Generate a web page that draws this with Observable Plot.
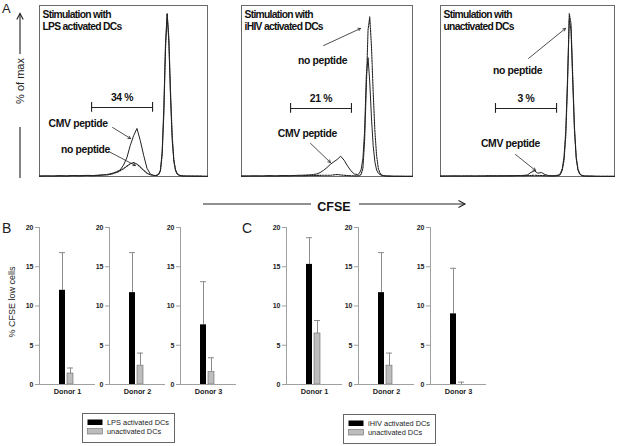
<!DOCTYPE html>
<html><head><meta charset="utf-8">
<script src="https://cdn.jsdelivr.net/npm/d3@7"></script>
<script src="https://cdn.jsdelivr.net/npm/@observablehq/plot@0.6"></script>
<style>
body{margin:0;background:#fff;}
#fig{position:relative;width:617px;height:446px;font-family:Arial,"Liberation Sans",sans-serif;overflow:hidden;}
#fig > div.p{position:absolute;}
#fig svg{display:block;overflow:visible;}
</style></head><body><div id="fig"></div>
<script>
// ---------- DATA ----------
// CFSE channel (x) shared by all histograms
const cfse = [0,4,8,12,16,20,24,28,32,36,40,42,44,46,48,50,52,54,56,58,60,62,64,66,68,69,70,71,72,73,74,75,76,77,78,79,80,81,82,83,84,86,88,92,96,100];
// % of max, LPS activated DCs
const lpsCmv  = [0.3,0.4,0.3,0.5,0.4,0.6,0.5,0.7,0.6,0.9,1.2,1.6,2.2,3.0,4.0,7,11.5,19,25,29.5,22,13,5,1.5,0.7,0.6,0.8,1.5,4,15,42,82,100,82,48,22,9,3.5,1.5,0.8,0.5,0.3,0.3,0.2,0.2,0.1];
const lpsNone = [0.2,0.3,0.3,0.4,0.3,0.5,0.4,0.6,0.5,0.7,1.0,1.3,1.8,2.5,3.5,4.8,6.3,7.8,8.6,7.6,5.8,3.8,2.0,1.0,0.6,0.6,0.8,1.5,3.5,13,38,78,100,85,52,25,10,4,1.8,0.9,0.5,0.3,0.3,0.2,0.2,0.1];
// % of max, iHIV activated DCs
const ihivCmv  = [0.3,0.3,0.4,0.3,0.5,0.4,0.6,0.5,0.7,0.8,1.0,1.2,1.6,2.4,3.8,5.5,7.5,9.0,10.5,12.5,10,6.5,3.5,1.5,1.2,2,4.5,11,28,62,73,58,36,19,9,4,2,1.2,0.7,0.5,0.4,0.3,0.2,0.2,0.1,0.1];
const ihivNone = [0.2,0.3,0.3,0.3,0.4,0.3,0.4,0.4,0.5,0.5,0.6,0.6,0.7,0.7,0.8,0.8,0.8,1.0,1.2,1.0,0.8,0.6,0.5,0.4,0.4,0.5,1.5,5,22,55,90,98,80,52,28,13,5,2,0.9,0.5,0.3,0.2,0.2,0.1,0.1,0.1];
// % of max, unactivated DCs
const unCmv  = [0.3,0.3,0.4,0.3,0.4,0.3,0.4,0.4,0.5,0.4,0.5,0.5,0.6,0.6,0.7,1.0,2.5,3.5,2.0,2.5,1.2,0.6,0.4,0.5,1.0,2,5,12,28,60,96,90,58,28,11,4,1.5,0.7,0.4,0.3,0.3,0.2,0.2,0.1,0.1,0.1];
const unNone = [0.2,0.3,0.3,0.3,0.3,0.3,0.3,0.4,0.3,0.4,0.4,0.4,0.5,0.5,0.5,0.6,0.6,0.8,0.6,0.6,0.5,0.4,0.4,0.4,0.6,1.5,4,10,25,56,100,94,62,30,12,4.5,1.8,0.8,0.4,0.3,0.2,0.2,0.2,0.1,0.1,0.1];

const histTitles = ["Stimulation with\nLPS activated DCs","Stimulation with\niHIV activated DCs","Stimulation with\nunactivated DCs"];
const pctLow = ["34 %","21 %","3 %"];

// Bar charts (% CFSE low cells)
const donors = ["Donor 1","Donor 2","Donor 3"];
const lpsMean = [12.0, 11.7, 7.6];
const lpsSD   = [4.8, 5.1, 5.5];
const unBMean = [1.4, 2.4, 1.6];
const unBSD   = [0.7, 1.6, 1.8];
const ihivMean = [15.3, 11.7, 9.0];
const ihivSD   = [3.4, 5.1, 5.8];
const unCMean  = [6.5, 2.4, 0.0];
const unCSD    = [1.65, 1.6, 0.3];
const legendB = ["LPS activated DCs","unactivated DCs"];
const legendC = ["iHIV activated DCs","unactivated DCs"];

// ---------- LAYOUT ----------
const FONT = "Arial, 'Liberation Sans', sans-serif";
const fig = document.getElementById("fig");
function place(node, left, top) {
  const d = document.createElement("div");
  d.className = "p"; d.style.left = left + "px"; d.style.top = top + "px";
  d.appendChild(node); fig.appendChild(d);
}

// annotation anchors (in data units of each histogram)
const ann = [
  {bx1:31.0, bx2:67.3, by:42.4, cmv:[23.0,32.5], cmvA:[43.5,30.1,54.2,23.3], none:[27.4,16.6], noneA:[41.1,15.4,57.1,6.75]},
  {bx1:28.7, bx2:64.3, by:41.8, cmv:[38.5,26.4], cmvA:[40.4,20.3,52.0,8.6], none:[47.4,71.2], noneA:[48.0,80.4,69.6,90.9]},
  {bx1:31.6, bx2:66.7, by:41.8, cmv:[40.2,20.3], cmvA:[43.1,13.5,54.6,3.7], none:[44.3,65.1], noneA:[50.6,72.5,71.8,90.9]}
];
const histBoxes = [[39,207],[241,412],[440,614]];
const histSeries = [[lpsCmv,lpsNone],[ihivCmv,ihivNone],[unCmv,unNone]];

histBoxes.forEach(([x0,x1], i) => {
  const a = ann[i];
  const solid = cfse.map((x,j)=>({x, y: histSeries[i][0][j]}));
  const dashed = cfse.map((x,j)=>({x, y: histSeries[i][1][j]}));
  const txt = {fontSize: 10.4, fontWeight: "bold", fill: "#111"};
  const chart = Plot.plot({
    width: (x1 - x0) + 2, height: 173,
    marginLeft: 1, marginRight: 1, marginTop: 1, marginBottom: 1,
    x: {domain: [0,100], axis: null},
    y: {domain: [0,105], axis: null},
    style: {fontFamily: FONT, background: "transparent", overflow: "visible"},
    marks: [
      Plot.frame({stroke: "#6a6a6a"}),
      Plot.line(dashed, {x: "x", y: "y", stroke: "#222", strokeWidth: 1.1, strokeDasharray: "1.6,1.1"}),
      Plot.line(solid, {x: "x", y: "y", stroke: "#222", strokeWidth: 1}),
      Plot.text([histTitles[i]], {text: d => d, frameAnchor: "top-left", dx: 3, dy: 4, textAnchor: "start", lineAnchor: "top", lineHeight: 1.17, fontSize: 10.3, fontWeight: "bold", fill: "#111"}),
      Plot.ruleY([a], {x1: "bx1", x2: "bx2", y: "by", stroke: "#222", strokeWidth: 1.1}),
      Plot.ruleX([{x: a.bx1, y: a.by}, {x: a.bx2, y: a.by}], {x: "x", y1: d => d.y - 3, y2: d => d.y + 3, stroke: "#222", strokeWidth: 1.1}),
      Plot.text([pctLow[i]], {text: d => d, x: (a.bx1 + a.bx2) / 2, y: a.by, dy: -10, ...txt}),
      Plot.text(["CMV peptide"], {text: d => d, x: a.cmv[0], y: a.cmv[1], ...txt}),
      Plot.text(["no peptide"], {text: d => d, x: a.none[0], y: a.none[1], ...txt}),
      Plot.arrow([a.cmvA, a.noneA], {x1: d => d[0], y1: d => d[1], x2: d => d[2], y2: d => d[3], stroke: "#222", strokeWidth: 0.8, headLength: 5, bend: 0})
    ]
  });
  const texts = d3.select(chart).selectAll('g[aria-label="text"]');
  texts.attr("letter-spacing", "-0.35px");
  texts.filter((d, k) => k === 0).attr("letter-spacing", "-0.7px");
  place(chart, x0 - 1, 4);
});

// bar charts
function barPanel(donor, actV, actE, unV, unE) {
  const act = [{s: "act", v: actV, e: actE}];
  const un = [{s: "un", v: unV, e: unE}];
  const both = act.concat(un);
  return Plot.plot({
    width: 80, height: 182, marginLeft: 22, marginRight: 2, marginTop: 5, marginBottom: 20,
    x: {type: "band", domain: ["act","un"], paddingInner: 0.3125, paddingOuter: 2.656, align: 0.465, axis: null},
    y: {domain: [0,20], axis: null},
    style: {fontFamily: FONT, background: "transparent", overflow: "visible"},
    marks: [
      Plot.ruleX(both, {x: "s", y1: "v", y2: d => d.v + d.e, stroke: "#8c8c8c", strokeWidth: 1}),
      Plot.tickY(both, {x: "s", y: d => d.v + d.e, stroke: "#8c8c8c", strokeWidth: 1}),
      Plot.barY(act, {x: "s", y: "v", fill: "#000"}),
      Plot.barY(un, {x: "s", y: "v", fill: "#bdbdbd", stroke: "#6a6a6a", strokeWidth: 0.6}),
      Plot.ruleY([0], {stroke: "#a0a0a0"}),
      Plot.frame({anchor: "left", stroke: "#a0a0a0"}),
      Plot.axisY({ticks: [0,5,10,15,20], label: null, tickSize: 4, tickPadding: 2, fontSize: 7, fontWeight: "bold", stroke: "#a0a0a0", fill: "#222"}),
      Plot.text([donor], {text: d => d, frameAnchor: "bottom", dy: 9, fontSize: 7.3, fontWeight: "bold", fill: "#222"})
    ]
  });
}
const bLeft = [39, 109, 180];
const cLeft = [286, 358, 430];
donors.forEach((d, i) => {
  place(barPanel(d, lpsMean[i], lpsSD[i], unBMean[i], unBSD[i]), bLeft[i] - 22, 222);
  place(barPanel(d, ihivMean[i], ihivSD[i], unCMean[i], unCSD[i]), cLeft[i] - 22, 222);
});

// overlay: panel letters, axis arrows, legends
const NS = "http://www.w3.org/2000/svg";
const ov = document.createElementNS(NS, "svg");
ov.setAttribute("width", 617); ov.setAttribute("height", 446);
ov.style.position = "absolute"; ov.style.left = "0"; ov.style.top = "0"; ov.style.fontFamily = FONT;
function el(tag, attrs, text) {
  const e = document.createElementNS(NS, tag);
  for (const k in attrs) e.setAttribute(k, attrs[k]);
  if (text != null) e.textContent = text;
  ov.appendChild(e); return e;
}
el("text", {x: 2, y: 13, "font-size": 13, fill: "#222"}, "A");
el("text", {x: 2, y: 233, "font-size": 14, fill: "#222"}, "B");
el("text", {x: 242, y: 233, "font-size": 14, fill: "#222"}, "C");
// % of max arrow
el("line", {x1: 20, y1: 13.5, x2: 20, y2: 54, stroke: "#222", "stroke-width": 1.1});
el("path", {d: "M16.8,19.5 L20,13.5 L23.2,19.5", fill: "none", stroke: "#222", "stroke-width": 1.1});
el("text", {x: 0, y: 0, transform: "translate(24,81) rotate(-90)", "text-anchor": "middle", "font-size": 11, fill: "#222"}, "% of max");
el("line", {x1: 20, y1: 127, x2: 20, y2: 178, stroke: "#222", "stroke-width": 1.1});
// CFSE arrow
el("line", {x1: 203, y1: 204, x2: 311, y2: 204, stroke: "#222", "stroke-width": 1.1});
el("text", {x: 334, y: 210.5, "text-anchor": "middle", "font-size": 12.5, "font-weight": "bold", fill: "#111"}, "CFSE");
el("line", {x1: 359, y1: 204, x2: 465, y2: 204, stroke: "#222", "stroke-width": 1.1});
el("path", {d: "M458.5,200.5 L465,204 L458.5,207.5", fill: "none", stroke: "#222", "stroke-width": 1.1});
// y label
el("text", {x: 0, y: 0, transform: "translate(14.5,302) rotate(-90)", "text-anchor": "middle", "font-size": 9, fill: "#222"}, "% CFSE low cells");
// legends
function legend(x, y, labels) {
  el("rect", {x: x + 0.5, y: y + 0.5, width: 92, height: 29, fill: "none", stroke: "#666", "stroke-width": 1});
  el("rect", {x: x + 5.5, y: y + 6.5, width: 15, height: 5.5, fill: "#000"});
  el("rect", {x: x + 5.5, y: y + 15.5, width: 15, height: 5.5, fill: "#bdbdbd", stroke: "#6a6a6a", "stroke-width": 0.6});
  el("text", {x: x + 25, y: y + 12, "font-size": 7.4, fill: "#222"}, labels[0]);
  el("text", {x: x + 25, y: y + 21, "font-size": 7.4, fill: "#222"}, labels[1]);
}
legend(82, 413, legendB);
legend(343, 414, legendC);
fig.appendChild(ov);
</script></body></html>
